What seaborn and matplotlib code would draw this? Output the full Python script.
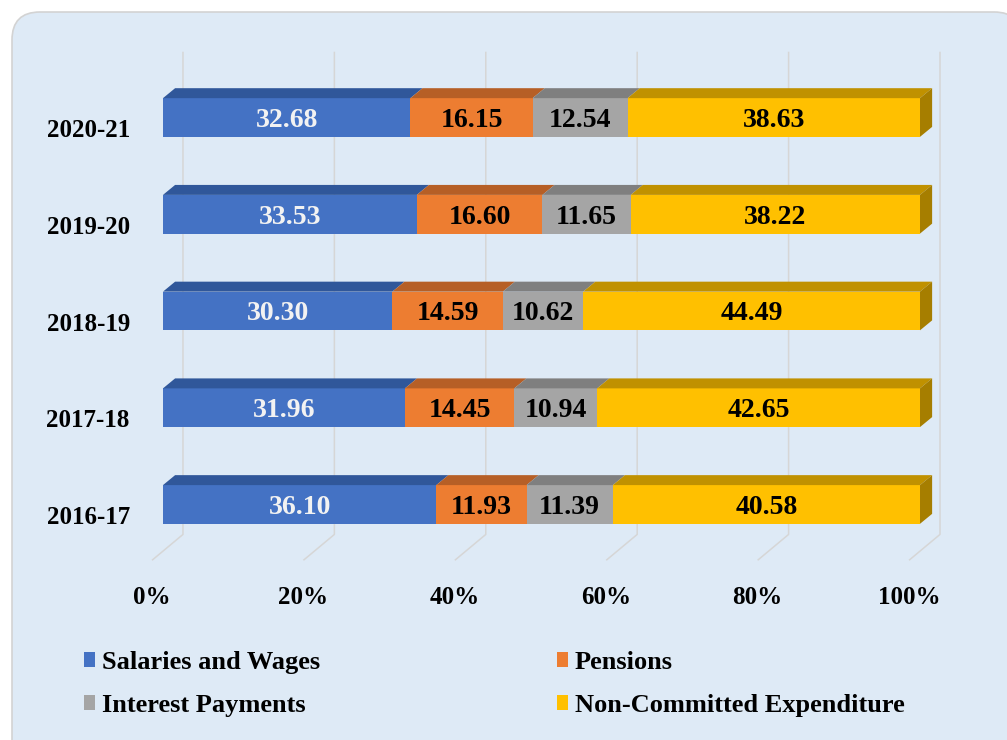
import numpy as np
import pandas as pd
import matplotlib
matplotlib.use("Agg")
import matplotlib.pyplot as plt
import seaborn as sns
from matplotlib.patches import Polygon, FancyBboxPatch, Patch
from matplotlib.transforms import IdentityTransform

years = ["2020-21", "2019-20", "2018-19", "2017-18", "2016-17"]
salaries = [32.68, 33.53, 30.30, 31.96, 36.10]
pensions = [16.15, 16.60, 14.59, 14.45, 11.93]
interest = [12.54, 11.65, 10.62, 10.94, 11.39]
non_committed = [38.63, 38.22, 44.49, 42.65, 40.58]

series = ["Salaries and Wages", "Pensions", "Interest Payments", "Non-Committed Expenditure"]
front_colors = ["#4472C4", "#ED7D31", "#A5A5A5", "#FFC000"]
top_colors = ["#30579A", "#B65F26", "#7F7F7F", "#C09100"]
side_color = "#A67E00"
text_colors = ["#F2F2F2", "black", "black", "black"]
ticks = [0, 20, 40, 60, 80, 100]

df = pd.DataFrame({"year": years, series[0]: salaries, series[1]: pensions,
                   series[2]: interest, series[3]: non_committed})
cum = df[series].cumsum(axis=1)
start = cum - df[series]

sns.set_style("white")
plt.rcParams["font.family"] = ["Liberation Serif", "DejaVu Serif"]
plt.rcParams["font.weight"] = "bold"
plt.rcParams["text.color"] = "black"
plt.rcParams["xtick.labelcolor"] = "black"
plt.rcParams["ytick.labelcolor"] = "black"

fig = plt.figure(figsize=(10.07, 7.40), dpi=100, facecolor="white")
fig.patches.append(FancyBboxPatch((12, -40), 1010, 768, boxstyle="round,pad=0,rounding_size=28",
                                  transform=IdentityTransform(), facecolor="#DEEAF6",
                                  edgecolor="#D3D3D3", linewidth=1.2, zorder=-5))
ax = fig.add_axes([0.1393, 0.2268, 0.8119, 0.7190])
ax.set_facecolor("none")

# 3d depth offsets in data units
dx = 1.6
dy = 0.103
bh = 0.4

# gridlines: back wall + floor
for t in ticks:
    ax.plot([t + 2.64, t + 2.64, t - 1.45], [-0.68, 4.31, 4.577], color="#D6D6D6",
            lw=1.1, zorder=1, solid_capstyle="butt")

# front faces (stacked by overlaying cumulative totals)
for i in reversed(range(len(series))):
    sns.barplot(x=cum[series[i]], y=df["year"], orient="h", color=front_colors[i],
                saturation=1, width=bh, errorbar=None, ax=ax, zorder=3, edgecolor="none")

for r in range(len(years)):
    top = r - bh / 2
    for i, s in enumerate(series):
        l, rr = start.loc[r, s], cum.loc[r, s]
        ax.add_patch(Polygon([(l, top), (rr, top), (rr + dx, top - dy), (l + dx, top - dy)],
                             closed=True, facecolor=top_colors[i], edgecolor="none", zorder=3))
        ax.text((l + rr) / 2, r + 0.03, f"{df.loc[r, s]:.2f}", ha="center", va="center",
                fontsize=20, fontweight="bold", color=text_colors[i], zorder=5)
    end = cum.loc[r, series[-1]]
    ax.add_patch(Polygon([(end, top), (end, r + bh / 2), (end + dx, r + bh / 2 - dy), (end + dx, top - dy)],
                         closed=True, facecolor=side_color, edgecolor="none", zorder=3))

ax.set_xlim(-3, 105)
ax.set_ylim(4.7, -0.8)
ax.set_xticks(np.array(ticks) - 1.45, labels=[f"{t}%" for t in ticks])
ax.set_yticks(np.arange(len(years)) + 0.11, labels=years)
ax.tick_params(axis="x", length=0, pad=10, labelsize=18)
ax.tick_params(axis="y", length=0, pad=7.5, labelsize=18)
for lab in ax.get_xticklabels() + ax.get_yticklabels():
    lab.set_fontweight("bold")
ax.set_xlabel("")
ax.set_ylabel("")
for sp in ax.spines.values():
    sp.set_visible(False)
ax.grid(False)

# legend fills column-wise: reorder so rows read Salaries/Pensions, Interest/Non-Committed
order = [0, 2, 1, 3]
handles = [Patch(facecolor=front_colors[k], edgecolor="none") for k in order]
fig.legend(handles, [series[k] for k in order], ncol=2, loc="upper left",
           bbox_to_anchor=(84 / 1007, 1 - 651 / 740),
           frameon=False, handlelength=0.42, handleheight=0.5, handletextpad=0.25,
           columnspacing=9.0, labelspacing=0.75, borderpad=0, borderaxespad=0,
           prop={"family": "Liberation Serif", "weight": "bold", "size": 19})

fig.savefig("out.png", dpi=100, facecolor="white")
